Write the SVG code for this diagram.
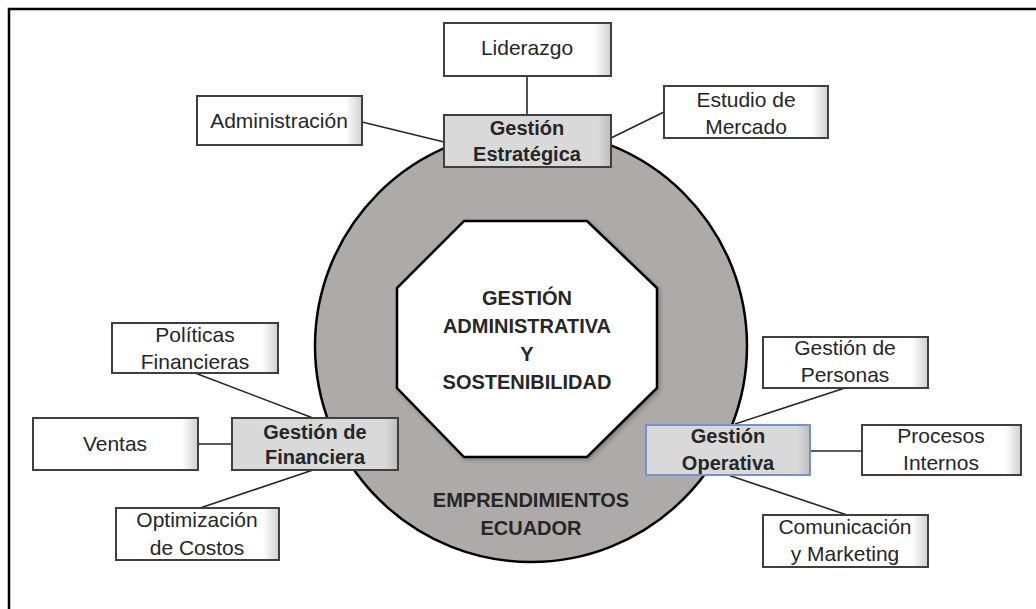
<svg xmlns="http://www.w3.org/2000/svg" width="1036" height="609" viewBox="0 0 1036 609">
<defs>
<linearGradient id="boxShade" x1="0" y1="0" x2="1" y2="0">
<stop offset="0" stop-color="#ffffff"/>
<stop offset="0.9" stop-color="#ffffff"/>
<stop offset="1" stop-color="#cfcfcf"/>
</linearGradient>
<linearGradient id="hubShade" x1="0" y1="0" x2="1" y2="0">
<stop offset="0" stop-color="#d9d9d9"/>
<stop offset="0.92" stop-color="#d9d9d9"/>
<stop offset="1" stop-color="#bdbdbd"/>
</linearGradient>
<filter id="soft" x="-10%" y="-10%" width="120%" height="120%">
<feDropShadow dx="2" dy="2" stdDeviation="2" flood-color="#000" flood-opacity="0.25"/>
</filter>
</defs>
<style>
.box{fill:url(#boxShade);stroke:#3f3f3f;stroke-width:2}
.hub{fill:url(#hubShade);stroke:#3f3f3f;stroke-width:2}
.hubblue{fill:url(#hubShade);stroke:#7393d0;stroke-width:2}
.t{font-family:"Liberation Sans",Arial,sans-serif;font-size:21px;fill:#262626;text-anchor:middle}
.b{font-family:"Liberation Sans",Arial,sans-serif;font-size:20px;font-weight:bold;fill:#262626;text-anchor:middle}
.ln{stroke:#262626;stroke-width:1.6;fill:none}
</style>
<rect width="1036" height="609" fill="#ffffff"/>
<rect x="9" y="9" width="1100" height="700" fill="none" stroke="#000" stroke-width="2.5"/>

<g id="ring">
<circle cx="531" cy="346" r="216" fill="#aeaaaa" stroke="#000" stroke-width="2.5"/>
<text class="b" x="531" y="507">EMPRENDIMIENTOS</text>
<text class="b" x="531" y="535">ECUADOR</text>
</g>

<g id="center">
<polygon points="464,221 587,221 657,288 657,388 587,457 464,457 397,388 397,288" fill="#ffffff" stroke="#000" stroke-width="2.5" filter="url(#soft)"/>
<text class="b" x="527" y="305">GESTIÓN</text>
<text class="b" x="527" y="333">ADMINISTRATIVA</text>
<text class="b" x="527" y="361">Y</text>
<text class="b" x="527" y="389">SOSTENIBILIDAD</text>
</g>

<g id="connectors">
<line class="ln" x1="527" y1="76" x2="527" y2="115"/>
<line class="ln" x1="362" y1="122" x2="444" y2="142"/>
<line class="ln" x1="664" y1="112" x2="611" y2="138"/>
<line class="ln" x1="195" y1="373" x2="313" y2="418"/>
<line class="ln" x1="198" y1="444" x2="232" y2="444"/>
<line class="ln" x1="313" y1="470" x2="200" y2="508"/>
<line class="ln" x1="735" y1="424" x2="845" y2="388"/>
<line class="ln" x1="810" y1="451" x2="862" y2="451"/>
<line class="ln" x1="728" y1="475" x2="847" y2="515"/>
</g>

<g id="liderazgo">
<rect class="box" x="444" y="23" width="167" height="53"/>
<text class="t" x="527" y="55">Liderazgo</text>
</g>
<g id="administracion">
<rect class="box" x="197" y="96" width="165" height="49"/>
<text class="t" x="279" y="128">Administración</text>
</g>
<g id="estudio-mercado">
<rect class="box" x="664" y="86" width="164" height="52"/>
<text class="t" x="746" y="107">Estudio de</text>
<text class="t" x="746" y="134">Mercado</text>
</g>
<g id="gestion-estrategica">
<rect class="hub" x="444" y="115" width="167" height="52"/>
<text class="b" x="527" y="135">Gestión</text>
<text class="b" x="527" y="161">Estratégica</text>
</g>

<g id="politicas-financieras">
<rect class="box" x="112" y="323" width="166" height="50"/>
<text class="t" x="195" y="342">Políticas</text>
<text class="t" x="195" y="369">Financieras</text>
</g>
<g id="ventas">
<rect class="box" x="33" y="418" width="165" height="52"/>
<text class="t" x="115" y="451">Ventas</text>
</g>
<g id="gestion-financiera">
<rect class="hub" x="232" y="418" width="166" height="52"/>
<text class="b" x="315" y="439">Gestión de</text>
<text class="b" x="315" y="464">Financiera</text>
</g>
<g id="optimizacion-costos">
<rect class="box" x="116" y="508" width="163" height="52"/>
<text class="t" x="197" y="527">Optimización</text>
<text class="t" x="197" y="555">de Costos</text>
</g>

<g id="gestion-personas">
<rect class="box" x="763" y="337" width="165" height="51"/>
<text class="t" x="845" y="355">Gestión de</text>
<text class="t" x="845" y="382">Personas</text>
</g>
<g id="gestion-operativa">
<rect class="hubblue" x="646" y="425" width="164" height="50"/>
<text class="b" x="728" y="443">Gestión</text>
<text class="b" x="728" y="470">Operativa</text>
</g>
<g id="procesos-internos">
<rect class="box" x="862" y="425" width="159" height="50"/>
<text class="t" x="941" y="443">Procesos</text>
<text class="t" x="941" y="470">Internos</text>
</g>
<g id="comunicacion-marketing">
<rect class="box" x="763" y="515" width="165" height="52"/>
<text class="t" x="845" y="534">Comunicación</text>
<text class="t" x="845" y="561">y Marketing</text>
</g>
</svg>
